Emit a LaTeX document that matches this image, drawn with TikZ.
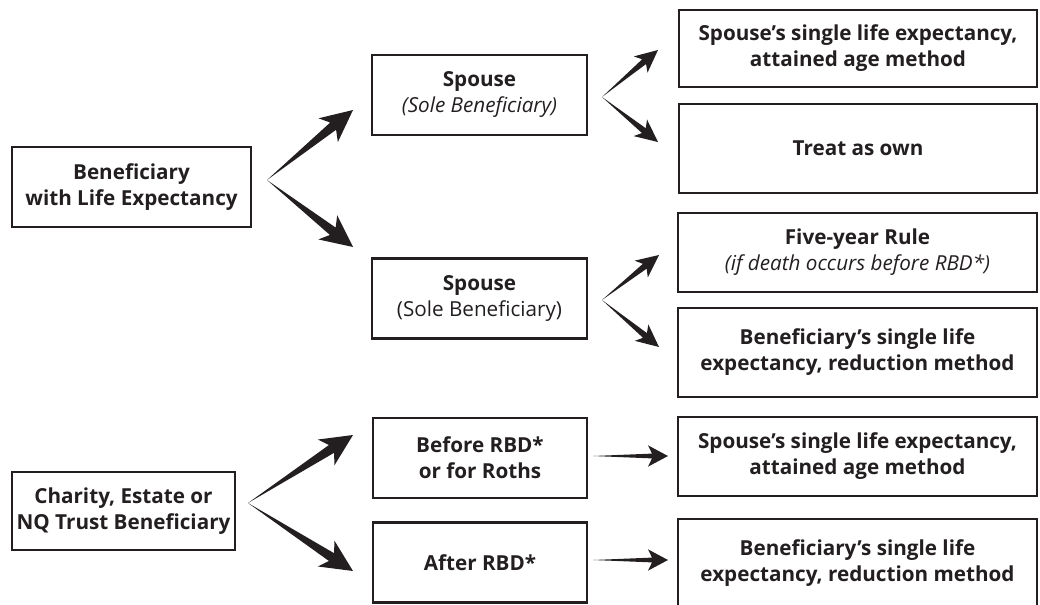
\documentclass[tikz,border=0pt]{standalone}
\usepackage{fontspec}
\setmainfont{Open Sans}[BoldFont={* Bold}, BoldItalicFont={* Bold Italic}]
\usepackage{tikz}
\usetikzlibrary{positioning,calc}
\definecolor{ink}{RGB}{35,31,32}
% tapered arrow: from, to, head length, head half width, shaft half width
\newcommand{\fatarrow}[5]{%
  \path ($(#2)!#3!(#1)$) coordinate (hb) ($(#2)!{0.8*#3}!(#1)$) coordinate (hj);
  \fill[ink] (#1) -- ($(hj)!#5!90:(#2)$) -- ($(hb)!#4!90:(#2)$) -- (#2)
    -- ($(hb)!#4!-90:(#2)$) -- ($(hj)!#5!-90:(#2)$) -- cycle;}
\tikzset{
  box/.style={draw=ink, line width=1.7pt, text=ink, align=center, inner sep=2pt,
    font=\fontsize{15.5}{19.5}\selectfont\bfseries},
  small/.style={box, minimum width=161pt, minimum height=60pt},
  wide/.style={box, minimum width=269pt}
}
\begin{document}
\begin{tikzpicture}[x=0.75pt,y=-0.75pt]
\useasboundingbox (0,0) rectangle (1040,604);
% left column
\node[box, minimum width=179pt, minimum height=60pt] (life) at (131.5,187) {Beneficiary\\with Life Expectancy};
\node[box, minimum width=167pt, minimum height=59pt] (charity) at (123.5,511) {Charity, Estate or\\NQ Trust Beneficiary};
% middle column
\node[small] (sp1) at (479.5,95) {Spouse\\{\mdseries\itshape (Sole Beneficiary)}};
\node[small] (sp2) at (479.5,298.5) {Spouse\\{\mdseries (Sole Beneficiary)}};
\node[small] (before) at (480,458) {Before RBD*\\or for Roths};
\node[small] (after) at (480,562.5) {After RBD*};
% right column
\node[wide, minimum height=58pt] (attain1) at (858,48.5) {Spouse's single life expectancy,\\attained age method};
\node[wide, minimum height=67pt] (own) at (858,148.5) {Treat as own};
\node[wide, minimum height=59pt] (five) at (857.5,252.5) {Five-year Rule\\{\mdseries\itshape (if death occurs before RBD*)}};
\node[wide, minimum height=67pt] (reduce1) at (857.5,352.5) {Beneficiary's single life\\expectancy, reduction method};
\node[wide, minimum height=59pt] (attain2) at (857.5,456.5) {Spouse's single life expectancy,\\attained age method};
\node[wide, minimum height=67pt] (reduce2) at (857.5,563.5) {Beneficiary's single life\\expectancy, reduction method};

% split points and arrow tips
\coordinate (a1) at (267,180);
\coordinate (a2) at (602,97);
\coordinate (a3) at (602,300);
\coordinate (a4) at (248,503);
\coordinate (t1) at (353,110);
\coordinate (t2) at (353,247);
\coordinate (t3) at (658,50);
\coordinate (t4) at (658,142);
\coordinate (t5) at (659,255);
\coordinate (t6) at (659,347);
\coordinate (t7) at (353,435);
\coordinate (t8) at (353,571);
\coordinate (h1) at (593,456);
\coordinate (h2) at (593,560);
\coordinate (h3) at (668,456);
\coordinate (h4) at (668,560);

\fatarrow{a1}{t1}{24pt}{11.5pt}{3.5pt}
\fatarrow{a1}{t2}{24pt}{11.5pt}{3.5pt}
\fatarrow{a4}{t7}{24pt}{11.5pt}{3.5pt}
\fatarrow{a4}{t8}{24pt}{11.5pt}{3.5pt}
\fatarrow{a2}{t3}{17pt}{8pt}{2.3pt}
\fatarrow{a2}{t4}{17pt}{8pt}{2.3pt}
\fatarrow{a3}{t5}{17pt}{8pt}{2.3pt}
\fatarrow{a3}{t6}{17pt}{8pt}{2.3pt}
\fatarrow{h1}{h3}{15pt}{8pt}{1.8pt}
\fatarrow{h2}{h4}{15pt}{8pt}{1.8pt}
\end{tikzpicture}
\end{document}
